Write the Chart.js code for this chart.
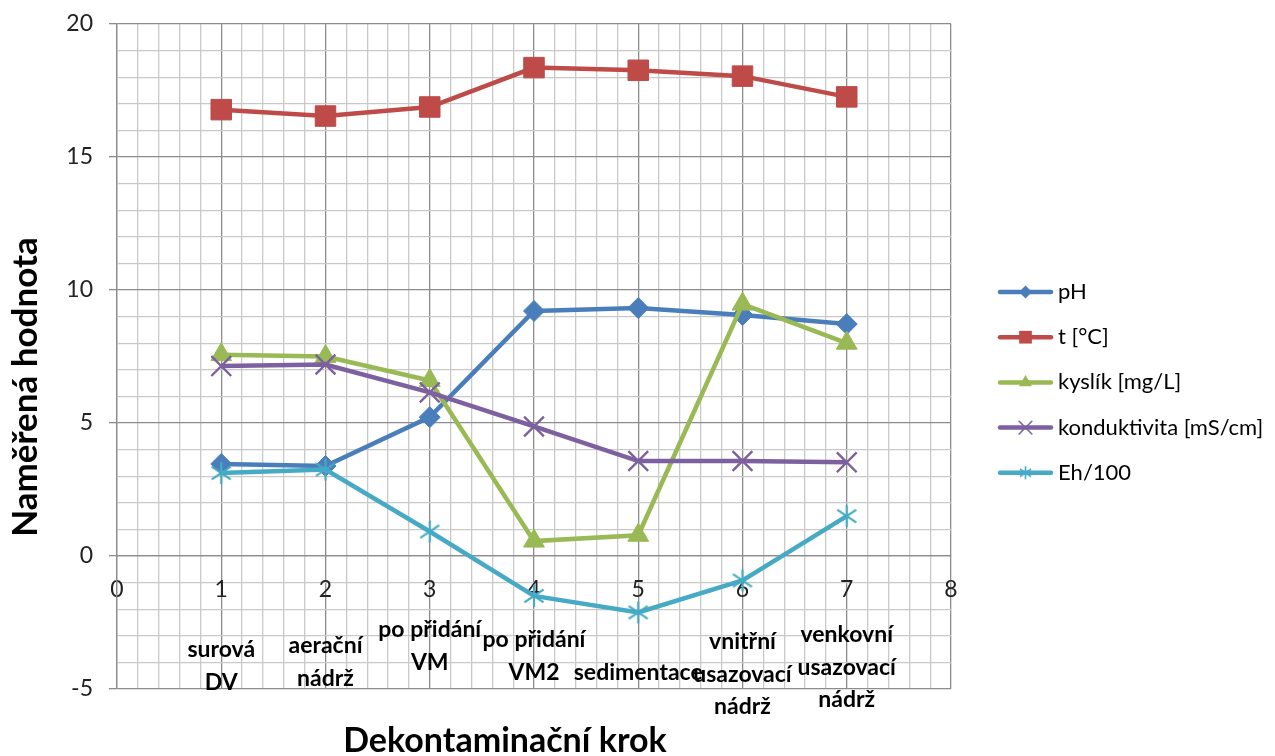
<!DOCTYPE html>
<html>
<head>
<meta charset="utf-8">
<script src="https://cdn.jsdelivr.net/npm/chart.js@4.4.1/dist/chart.umd.min.js"></script>
<style>
  html, body { margin: 0; padding: 0; background: #ffffff; }
  #wrap { position: relative; width: 1275px; height: 756px; }
</style>
</head>
<body>
<div id="wrap"><canvas id="chart" width="1275" height="756"></canvas></div>
<script>
// Decontamination steps (x positions) and their captions
const steps = [1, 2, 3, 4, 5, 6, 7];
const stepCaptions = [
  ["surová", "DV"],
  ["aerační", "nádrž"],
  ["po přidání", "VM"],
  ["po přidání", "VM2"],
  ["sedimentace"],
  ["vnitřní", "usazovací", "nádrž"],
  ["venkovní", "usazovací", "nádrž"]
];

// Measured values per step
const seriesNames = ["pH", "t [°C]", "kyslík [mg/L]", "konduktivita [mS/cm]", "Eh/100"];
const phValues = [3.46, 3.38, 5.22, 9.21, 9.32, 9.06, 8.72];
const tempValues = [16.78, 16.54, 16.88, 18.36, 18.26, 18.04, 17.26];
const oxygenValues = [7.57, 7.5, 6.6, 0.56, 0.78, 9.47, 8.0];
const conductivityValues = [7.14, 7.2, 6.15, 4.87, 3.57, 3.57, 3.52];
const ehValues = [3.12, 3.25, 0.92, -1.5, -2.12, -0.92, 1.5];

// Axis ranges and labelled ticks
const xRange = [0, 8];
const yRange = [-5, 20];
const xLabelStep = 1;
const yLabelStep = 5;

const axisTitleX = "Dekontaminační krok";
const axisTitleY = "Naměřená hodnota";

const FONT = "Lato, 'Open Sans', 'DejaVu Sans', sans-serif";
const colors = ["#4A7EBB", "#BE4B48", "#98B954", "#7D60A0", "#46AAC5"];

// Six-armed asterisk marker for the Eh series
function makeAsterisk(size, color, lw) {
  const c = document.createElement("canvas");
  c.width = size; c.height = size;
  const g = c.getContext("2d");
  const m = size / 2, a = size / 2 - 1;
  g.strokeStyle = color; g.lineWidth = lw; g.lineCap = "butt";
  g.beginPath();
  g.moveTo(m, m - a); g.lineTo(m, m + a);
  const dx = a * Math.cos(Math.PI / 6), dy = a * Math.sin(Math.PI / 6) * 1.15;
  g.moveTo(m - dx, m - dy); g.lineTo(m + dx, m + dy);
  g.moveTo(m - dx, m + dy); g.lineTo(m + dx, m - dy);
  g.stroke();
  return c;
}
const ehMarker = makeAsterisk(24, colors[4], 2.2);
const ehMarkerSmall = makeAsterisk(15, colors[4], 1.6);

function toPoints(values) {
  return values.map((v, i) => ({ x: steps[i], y: v }));
}

const markerDefs = [
  { style: "rectRot", radius: 10.5, border: 1 },
  { style: "rect", radius: 14.5, border: 1 },
  { style: "triangle", radius: 12, border: 1 },
  { style: "crossRot", radius: 14, border: 2.4 },
  { style: ehMarker, radius: 12, border: 2.2 }
];

const seriesValues = [phValues, tempValues, oxygenValues, conductivityValues, ehValues];
const datasets = seriesValues.map((vals, i) => ({
  label: seriesNames[i],
  data: toPoints(vals),
  borderColor: colors[i],
  backgroundColor: colors[i],
  borderWidth: 4.5,
  tension: 0,
  pointStyle: markerDefs[i].style,
  pointRadius: markerDefs[i].radius,
  pointHoverRadius: markerDefs[i].radius,
  pointBorderWidth: markerDefs[i].border,
  pointBorderColor: colors[i],
  pointBackgroundColor: colors[i],
  order: seriesValues.length - i
}));

function isWhole(v, step) {
  const q = v / step;
  return Math.abs(q - Math.round(q)) < 1e-6;
}

// Small marker painter used by the legend
function paintMarker(ctx, style, x, y, r, color, bw) {
  ctx.save();
  ctx.fillStyle = color; ctx.strokeStyle = color; ctx.lineWidth = bw;
  if (style instanceof HTMLCanvasElement) {
    ctx.drawImage(style, x - style.width / 2, y - style.height / 2);
    ctx.restore();
    return;
  }
  ctx.beginPath();
  if (style === "rectRot") {
    ctx.moveTo(x - r, y); ctx.lineTo(x, y - r); ctx.lineTo(x + r, y); ctx.lineTo(x, y + r); ctx.closePath();
    ctx.fill();
  } else if (style === "rect") {
    const s = r * Math.SQRT1_2;
    ctx.rect(x - s, y - s, 2 * s, 2 * s); ctx.fill();
  } else if (style === "triangle") {
    for (let k = 0; k < 3; k++) {
      const a = k * 2 * Math.PI / 3;
      const px = x + Math.sin(a) * r, py = y - Math.cos(a) * r;
      if (k === 0) ctx.moveTo(px, py); else ctx.lineTo(px, py);
    }
    ctx.closePath(); ctx.fill();
  } else if (style === "crossRot") {
    const d = r * Math.SQRT1_2;
    ctx.moveTo(x - d, y - d); ctx.lineTo(x + d, y + d);
    ctx.moveTo(x - d, y + d); ctx.lineTo(x + d, y - d);
    ctx.stroke();
  }
  ctx.restore();
}

const legendMarkers = [
  { style: "rectRot", r: 6.5, bw: 1 },
  { style: "rect", r: 9, bw: 1 },
  { style: "triangle", r: 7.5, bw: 1 },
  { style: "crossRot", r: 9, bw: 1.6 },
  { style: ehMarkerSmall, r: 7, bw: 1.6 }
];

// Legend, axis titles and step captions
const decorations = {
  id: "decorations",
  afterDraw(chart, args, opts) {
    const ctx = chart.ctx;
    const xs = chart.scales.x;

    // step captions under the axis
    ctx.save();
    ctx.fillStyle = "#000000";
    ctx.font = "bold 23px " + FONT;
    ctx.textAlign = "center";
    ctx.textBaseline = "alphabetic";
    stepCaptions.forEach((lines, i) => {
      const px = xs.getPixelForValue(steps[i]);
      let by = opts.captionBaselines[i];
      lines.forEach(line => {
        ctx.fillText(line, px, by);
        by += opts.captionLineGap;
      });
    });
    ctx.restore();

    // axis titles
    ctx.save();
    ctx.fillStyle = "#000000";
    ctx.font = "bold 34px " + FONT;
    ctx.textAlign = "center";
    ctx.textBaseline = "middle";
    ctx.fillText(axisTitleX, 505, 741);
    ctx.font = "bold 35px " + FONT;
    ctx.translate(26, 387);
    ctx.rotate(-Math.PI / 2);
    ctx.fillText(axisTitleY, 0, 0);
    ctx.restore();

    // legend
    ctx.save();
    ctx.font = "22px " + FONT;
    ctx.textAlign = "left";
    ctx.textBaseline = "middle";
    seriesNames.forEach((name, i) => {
      const y = 292 + i * 45.2;
      ctx.strokeStyle = colors[i];
      ctx.lineWidth = 4.5;
      ctx.lineCap = "round";
      ctx.beginPath();
      ctx.moveTo(1000, y); ctx.lineTo(1051, y);
      ctx.stroke();
      const m = legendMarkers[i];
      paintMarker(ctx, m.style, 1025.5, y, m.r, colors[i], m.bw);
      ctx.fillStyle = "#000000";
      ctx.fillText(name, 1058, y);
    });
    ctx.restore();
  }
};

const majorGrid = "#8c8c8c";
const minorGrid = "#c9c9c9";

new Chart(document.getElementById("chart"), {
  type: "line",
  data: { datasets },
  options: {
    responsive: false,
    animation: false,
    events: [],
    layout: { autoPadding: false, padding: { left: 0, top: 24, right: 324, bottom: 67 } },
    plugins: {
      legend: { display: false },
      tooltip: { enabled: false },
      decorations: {
        captionBaselines: [657, 653, 637, 647, 680, 649, 642],
        captionLineGap: 32.5
      }
    },
    scales: {
      x: {
        type: "linear",
        position: { y: 0 },
        min: xRange[0],
        max: xRange[1],
        afterFit: s => { s.paddingLeft = 0; s.paddingRight = 0; },
        ticks: {
          stepSize: 0.2,
          autoSkip: false,
          maxRotation: 0,
          padding: 20,
          color: "#222222",
          font: { family: FONT, size: 23 },
          callback: v => isWhole(v, xLabelStep) ? String(Math.round(v)) : ""
        },
        grid: {
          color: c => (c.tick && isWhole(c.tick.value, xLabelStep)) ? majorGrid : minorGrid,
          lineWidth: 1.3,
          tickLength: 0,
          drawTicks: false
        },
        border: { display: true, color: majorGrid, width: 1.3 }
      },
      y: {
        type: "linear",
        position: "left",
        min: yRange[0],
        max: yRange[1],
        afterFit: s => { s.width = 117; s.paddingTop = 0; s.paddingBottom = 0; },
        ticks: {
          stepSize: 1,
          autoSkip: false,
          padding: 16,
          color: "#222222",
          font: { family: FONT, size: 23 },
          callback: v => isWhole(v, yLabelStep) ? String(v) : ""
        },
        grid: {
          color: c => (c.tick && isWhole(c.tick.value, yLabelStep)) ? majorGrid : minorGrid,
          lineWidth: 1.3,
          tickLength: 8,
          tickColor: c => (c.tick && isWhole(c.tick.value, yLabelStep)) ? majorGrid : "rgba(0,0,0,0)"
        },
        border: { display: true, color: majorGrid, width: 1.3 }
      }
    }
  },
  plugins: [decorations]
});
</script>
</body>
</html>
